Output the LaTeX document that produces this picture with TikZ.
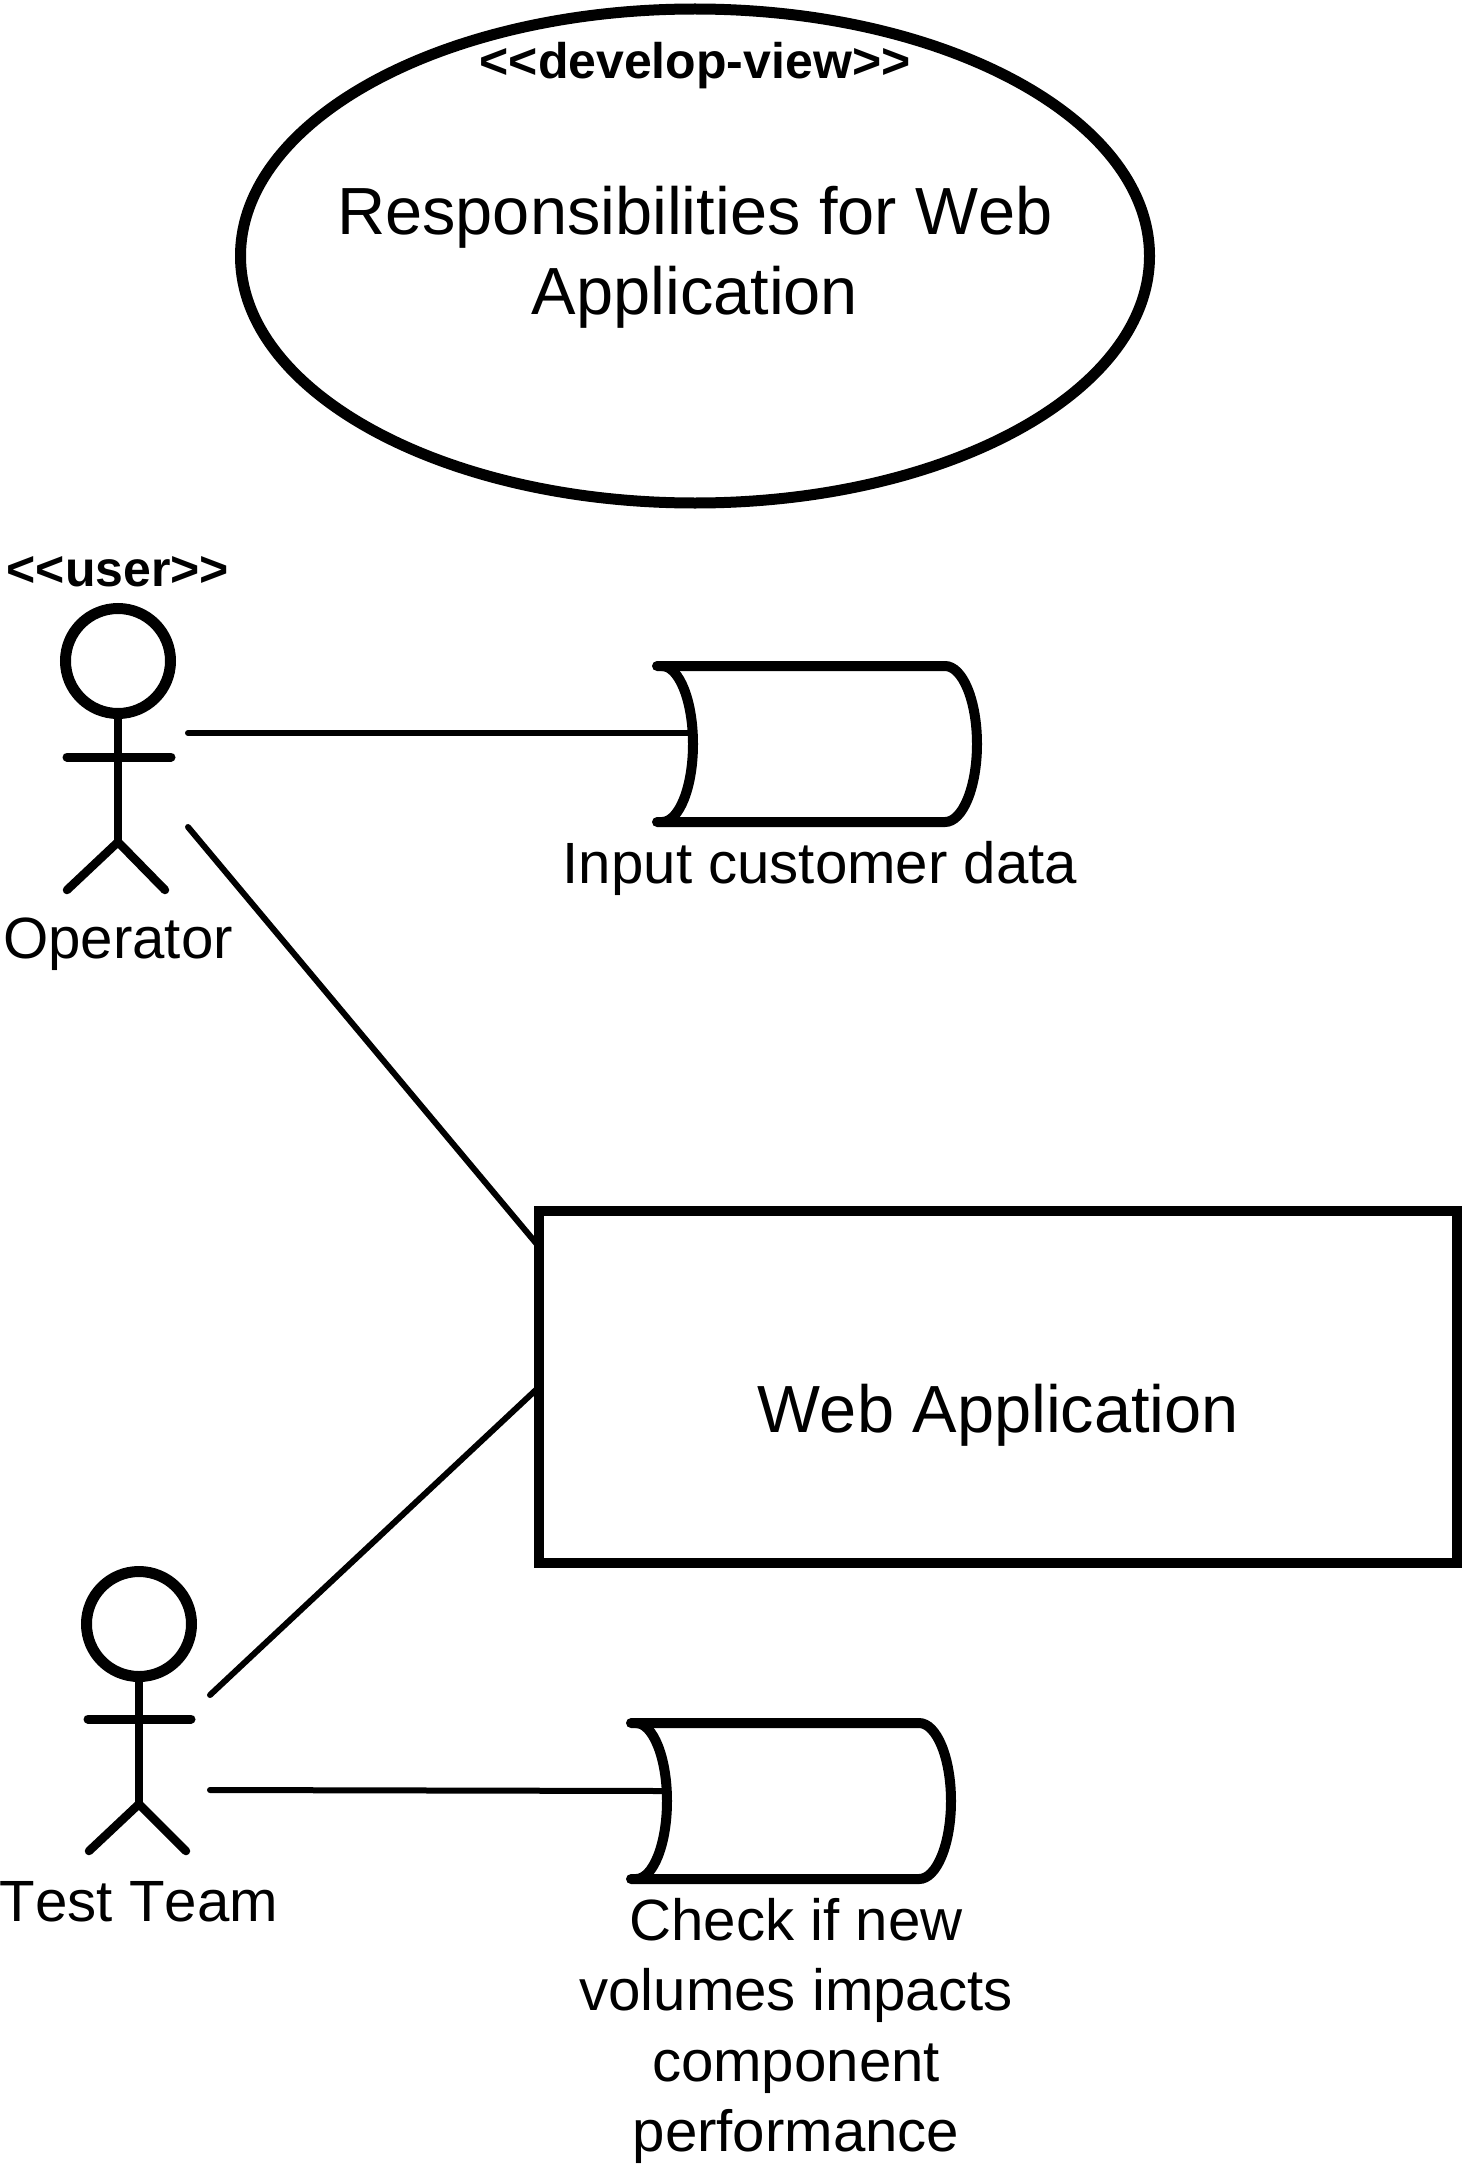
\documentclass[tikz,border=0pt]{standalone}
\usepackage{fontspec}
\setmainfont[Kerning=Off]{Liberation Sans}
\usetikzlibrary{shapes.geometric}
\tikzset{
  usecase/.style={draw,ellipse,line width=11,inner sep=0,outer sep=0,minimum width=909,minimum height=494},
  component/.style={draw,rectangle,line width=10,inner sep=0,outer sep=0,minimum width=918,minimum height=352},
  storebox/.style={rectangle,inner sep=0,outer sep=0,minimum width=320,minimum height=156},
  actorhead/.style={draw,circle,line width=11,inner sep=0,outer sep=0,minimum size=105},
  limb/.style={line width=8.5,line cap=round},
  link/.style={line width=6,line cap=round},
  storeline/.style={line width=10,line cap=round},
  bigtext/.style={inner sep=0,align=center,font=\fontsize{66.7}{80}\selectfont},
  labeltext/.style={inner sep=0,align=center,font=\fontsize{58.2}{70.5}\selectfont},
  stereotext/.style={inner sep=0,font=\fontsize{50}{60}\selectfont\bfseries}
}
% the drum of a store, drawn on its empty node
\newcommand{\drawstore}[1]{
  \draw [storeline] ([xshift=5]#1.north west) arc (-90:90:31 and 78);
  \draw [storeline] (#1.north west) -- ([xshift=288]#1.north west) arc (-90:90:32 and 78) -- (#1.south west);
}
\begin{document}
\begin{tikzpicture}[x=1pt,y=-1pt]
\useasboundingbox (0,0) rectangle (1464,2170);
\node[usecase] (responsibilities) at (695,256) {};
\node[bigtext] (responsibilitieslabel) at (695,257) {Responsibilities for Web\\Application};
\node[stereotext] (developview) at (695,66) {{<}{<}develop-view{>}{>}};
% operator
\node[actorhead] (operator) at (118,661) {};
\coordinate (operatorhip) at (118,842);
\draw [limb] (operator.south) -- (operatorhip);
\draw [limb,line width=9] (67,757) -- (171,757);
\draw [limb] (67,890) -- (operatorhip) -- (165,890);
\node[stereotext] (user) at (118,572) {{<}{<}user{>}{>}};
\node[labeltext] (operatorlabel) at (118,944) {Operator};
% input customer data
\node[storebox] (inputdata) at (817,744) {};
\drawstore{inputdata}
\node[labeltext] (inputlabel) at (820,868) {Input customer data};
% web application
\node[component] (webapp) at (998,1387) {};
\node[bigtext] (webapplabel) at (998,1415) {Web Application};
% test team
\node[actorhead] (testteam) at (139,1624) {};
\coordinate (testteamhip) at (139,1804);
\draw [limb] (testteam.south) -- (testteamhip);
\draw [limb,line width=9] (88,1719) -- (191,1719);
\draw [limb] (89,1851) -- (testteamhip) -- (186,1851);
\node[labeltext] (testteamlabel) at (139,1902) {Test Team};
% check volumes
\node[storebox] (checkdata) at (791,1801) {};
\drawstore{checkdata}
\node[labeltext] (checklabel) at (796,2031) {Check if new\\volumes impacts\\component\\performance};
% connectors
\coordinate (operatorport) at (188,733);
\coordinate (operatordrop) at (188,827);
\coordinate (inputport) at (692,733);
\coordinate (testteamrise) at (210,1695);
\coordinate (testteamport) at (210,1790);
\coordinate (checkport) at (663,1791);
\draw [link] (operatorport) -- (inputport);
\draw [link] (operatordrop) -- (webapp.163);
\draw [link] (testteamrise) -- (webapp.west);
\draw [link] (testteamport) -- (checkport);
\end{tikzpicture}
\end{document}
